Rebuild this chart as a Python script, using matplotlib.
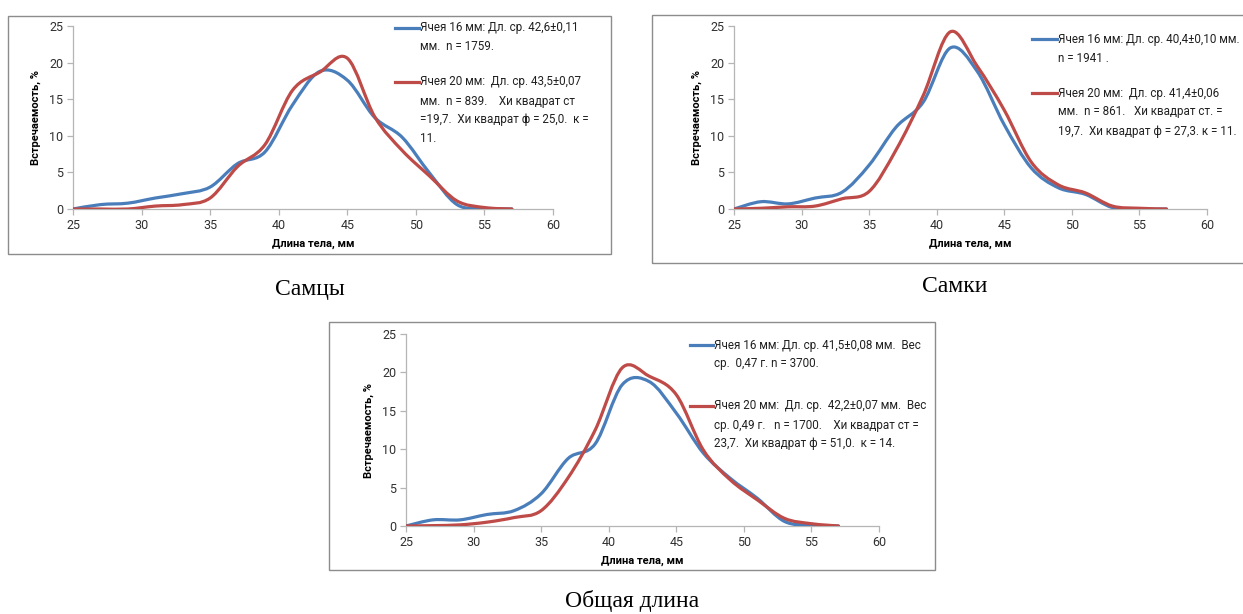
import numpy as np
import matplotlib
matplotlib.use("Agg")
import matplotlib.pyplot as plt
from matplotlib.path import Path
from matplotlib.patches import PathPatch, Rectangle
from matplotlib.lines import Line2D

# ---------------- data ----------------
length_mm = [25, 27, 29, 31, 33, 35, 37, 39, 41, 43, 45, 47, 49, 51, 53, 55, 57]

males_16 = [0.0, 0.6, 0.8, 1.5, 2.1, 3.0, 6.2, 7.8, 14.2, 18.8, 17.6, 12.5, 9.8, 4.9, 0.6, 0.1, 0.0]
males_20 = [0.0, 0.0, 0.0, 0.4, 0.6, 1.5, 5.8, 8.8, 16.2, 18.7, 20.6, 12.6, 8.0, 4.5, 1.1, 0.2, 0.0]

females_16 = [0.0, 1.0, 0.7, 1.5, 2.3, 6.0, 11.2, 14.6, 22.0, 18.8, 11.5, 5.6, 2.9, 2.0, 0.2, 0.0, 0.0]
females_20 = [0.0, 0.1, 0.3, 0.4, 1.4, 2.4, 8.1, 15.5, 24.2, 19.5, 13.5, 6.4, 3.3, 2.2, 0.4, 0.1, 0.0]

total_16 = [0.0, 0.8, 0.8, 1.5, 2.0, 4.2, 8.8, 10.7, 18.4, 18.8, 14.7, 9.5, 6.2, 3.6, 0.6, 0.1, 0.0]
total_20 = [0.0, 0.05, 0.15, 0.5, 1.1, 2.0, 6.3, 12.5, 20.6, 19.5, 17.1, 9.9, 6.0, 3.4, 1.0, 0.3, 0.0]

x_ticks = [25, 30, 35, 40, 45, 50, 55, 60]
y_ticks = [0, 5, 10, 15, 20, 25]

labels_males = [
    "Ячея 16 мм: Дл. ср. 42,6±0,11\nмм.  n = 1759.",
    "Ячея 20 мм:  Дл. ср. 43,5±0,07\nмм.  n = 839.    Хи квадрат ст\n=19,7.  Хи квадрат ф = 25,0.  к =\n11.",
]
labels_females = [
    "Ячея 16 мм: Дл. ср. 40,4±0,10 мм.\nn = 1941 .",
    "Ячея 20 мм:  Дл. ср. 41,4±0,06\nмм.  n = 861.   Хи квадрат ст. =\n19,7.  Хи квадрат ф = 27,3. к = 11.",
]
labels_total = [
    "Ячея 16 мм: Дл. ср. 41,5±0,08 мм.  Вес\nср.  0,47 г. n = 3700.",
    "Ячея 20 мм:  Дл. ср.  42,2±0,07 мм.  Вес\nср. 0,49 г.   n = 1700.    Хи квадрат ст =\n23,7.  Хи квадрат ф = 51,0.  к = 14.",
]
captions = ["Самцы", "Самки", "Общая длина"]
x_label = "Длина тела, мм"
y_label = "Встречаемость, %"

# ---------------- style ----------------
W, H = 1243, 614
BLUE = "#4a7ebb"
RED = "#be4b48"
SANS = ["Roboto", "Noto Sans", "DejaVu Sans"]
plt.rcParams["font.family"] = SANS

fig = plt.figure(figsize=(W / 100, H / 100), dpi=100)
fig.patch.set_facecolor("white")


def fx(px):
    return px / W


def fy(py):
    return 1 - py / H


def smooth_patch(x, y, color):
    pts = np.column_stack([np.asarray(x, float), np.asarray(y, float)])
    n = len(pts)
    verts = [pts[0]]
    codes = [Path.MOVETO]
    for i in range(n - 1):
        p0 = pts[i - 1] if i > 0 else pts[i]
        p1 = pts[i]
        p2 = pts[i + 1]
        p3 = pts[i + 2] if i + 2 < n else pts[i + 1]
        c1 = p1 + (p2 - p0) / 6.0
        c2 = p2 - (p3 - p1) / 6.0
        verts += [c1, c2, p2]
        codes += [Path.CURVE4] * 3
    return PathPatch(Path(verts, codes), fill=False, edgecolor=color,
                     lw=2.3, capstyle="round", joinstyle="round", zorder=3)


def make_panel(frame, axbox, s16, s20, labels, leg, caption, cap_xy):
    x0, y0, x1, y1 = frame
    fig.add_artist(Rectangle((fx(x0), fy(y1)), fx(x1) - fx(x0), fy(y0) - fy(y1),
                             transform=fig.transFigure, fill=False,
                             edgecolor="#8c8c8c", lw=1.0, zorder=0))
    ax_l, ax_t, ax_r, ax_b = axbox
    ax = fig.add_axes([fx(ax_l), fy(ax_b), fx(ax_r) - fx(ax_l), fy(ax_t) - fy(ax_b)])
    ax.patch.set_alpha(0)
    ax.add_patch(smooth_patch(length_mm, s16, BLUE))
    ax.add_patch(smooth_patch(length_mm, s20, RED))
    ax.set_xlim(25, 60)
    ax.set_ylim(0, 25)
    ax.set_xticks(x_ticks)
    ax.set_yticks(y_ticks)
    for s in ["top", "right"]:
        ax.spines[s].set_visible(False)
    for s in ["left", "bottom"]:
        ax.spines[s].set_color("#b5b5b5")
        ax.spines[s].set_linewidth(0.9)
    ax.tick_params(axis="both", direction="out", length=4, width=0.9,
                   color="#b5b5b5", labelsize=9, labelcolor="#303030", pad=3)
    ax.set_xlabel(x_label, fontsize=8, fontweight="bold", labelpad=5)
    ax.set_ylabel(y_label, fontsize=8, fontweight="bold", labelpad=6)
    lx0, lx1, ys = leg
    for lab, col, yy in zip(labels, [BLUE, RED], ys):
        fig.add_artist(Line2D([fx(lx0), fx(lx1)], [fy(yy), fy(yy)],
                              transform=fig.transFigure, color=col, lw=2.3))
        fig.text(fx(lx1 + 1), fy(yy - 6.5), lab, ha="left", va="top",
                 fontsize=8.4, color="#202020", linespacing=1.6,
                 family=SANS)
    fig.text(fx(cap_xy[0]), fy(cap_xy[1]), caption, ha="center", va="center",
             fontsize=17, family=["Liberation Serif", "DejaVu Serif"])
    return ax


make_panel((8, 16, 611, 254), (73, 26, 553, 209), males_16, males_20,
           labels_males, (395, 419, [28, 82]), captions[0], (310, 289))
make_panel((652, 15, 1260, 263), (734, 26, 1207, 209), females_16, females_20,
           labels_females, (1032, 1057, [39, 93]), captions[1], (955, 287))
make_panel((329, 322, 935, 570), (406, 334, 879, 526), total_16, total_20,
           labels_total, (690, 713, [345, 406]), captions[2], (632, 601))

fig.savefig("out.png", dpi=100, facecolor="white")
